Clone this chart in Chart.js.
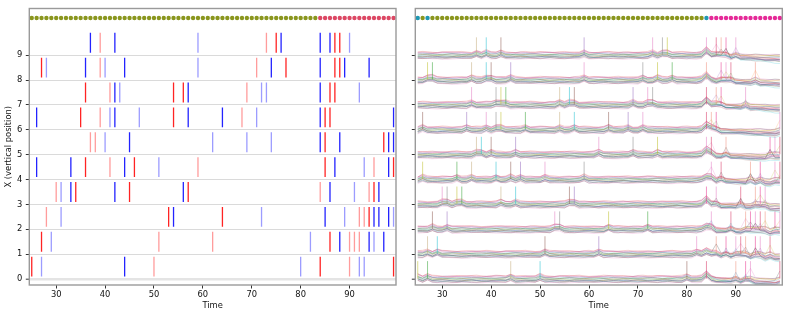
<!DOCTYPE html>
<html><head><meta charset="utf-8">
<script src="https://cdn.jsdelivr.net/npm/chart.js@4.4.1/dist/chart.umd.min.js"></script>
<style>
html,body{margin:0;padding:0;background:#fff;}
#wrap{position:relative;width:789px;height:317px;overflow:hidden;background:#fff;}
#cL{position:absolute;left:0;top:0;width:400px;height:317px;}
#cR{position:absolute;left:400px;top:0;width:389px;height:317px;}
</style></head><body>
<div id="wrap"><canvas id="cL" width="400" height="317"></canvas><canvas id="cR" width="389" height="317"></canvas></div>
<script>
// ---------------- data ----------------
const times = [];
for (let t = 25; t <= 99; t++) times.push(t);
const xTicks = [30, 40, 50, 60, 70, 80, 90];
const yTicks = [0, 1, 2, 3, 4, 5, 6, 7, 8, 9];

// event times per row (0..9) and their kind: B blue, b light blue, R red, r light red
const eventTimes = [
  [25,27,44,50,80,84,90,92,93,99],
  [27,29,51,62,82,86,88,90,91,92,94,95,97],
  [28,31,53,54,64,72,85,89,92,93,94,95,96,98,99],
  [30,31,33,34,42,45,56,57,84,86,91,94,95,96],
  [26,33,36,41,44,46,51,59,85,87,93,95,98,99],
  [37,38,40,45,62,69,74,84,85,88,97,98,99],
  [26,35,39,41,42,47,54,57,64,68,71,84,85,86,99],
  [36,41,42,43,54,56,57,69,72,73,84,86,87,92],
  [27,28,36,39,40,44,59,71,74,77,84,87,88,89,94],
  [37,39,42,59,73,75,76,84,86,87,88,90]
];
const eventKinds = [
  "RbBrbRrbbR",
  "RbrrbRBrrrBbB",
  "rbRBRbBbrrRBBBb",
  "rbBRBRBRrBbrRB",
  "BBRrBRbrRBbrBR",
  "rrbBbbbBRBRBB",
  "BRrbBbRBBrbBRRB",
  "RrBbRRBrbbBRRb",
  "RbBrbBbrBRBRRBB",
  "BrBbrRBBBRRb"
];

// state dots along the top, one per time step (o olive, r red, c cyan, m magenta)
const leftDots  = "oooooooooooooooooooooooooooooooooooooooooooooooooooooooooo" + "o" + "rrrrrrrrrrrrrrrr";
const rightDots = "coc" + "oooooooooooooooooooooooooooooooooooooooooooooooooooooooo" + "c" + "mmmmmmmmmmmmmmm";

// common shape of the trace bands (relative to row), per time step
const bandShape = [
  0,0,0,0,0,0,0,0,0,0,0,0,0,0,0,0,0,0,0,0,
  0,0,0,0,0,0,0,0,0,0,0,0,0,0,0,0,0,0,0,0,
  0,0,0,0,0,0,0,0,0,0,0,0,0,0,0,0,0,0,
  0.03,0.13,0.03,-0.04,-0.06,-0.07,-0.08,-0.09,-0.1,-0.11,-0.12,-0.13,-0.14,-0.15,-0.16,-0.17,-0.18
];
// spread of the bands after the state change
const spreadShape = [
  0,0,0,0,0,0,0,0,0,0,0,0,0,0,0,0,0,0,0,0,
  0,0,0,0,0,0,0,0,0,0,0,0,0,0,0,0,0,0,0,0,
  0,0,0,0,0,0,0,0,0,0,0,0,0,0,0,0,0,0,0,0,
  0.02,0.04,0.06,0.08,0.09,0.1,0.11,0.12,0.13,0.14,0.15,0.16,0.17,0.18,0.19
];
// small wiggles of the traces (hundredths)
const wiggle0 = [0,1,2,1,0,-1,-2,-1,0,1,1,0,-1,-1,0, 2,3,1,0,-1,-2,-2,-1,0,1,2,1,0,0,-1, -2,-1,0,1,2,2,1,0,-1,-1,0,1,0,-1,-2, -1,0,1,2,1,0,-1,-1,0,1,1,0,-1,-2,-1, 0,1,2,1,0,-1,-2,-1,0,1,2,1,0,-1,0];
const wiggle1 = [-1,0,-2,-1,1,2,0,-1,-3,-1,0,2,1,0,-1, 0,1,-1,-2,0,1,3,1,-1,0,-2,-1,1,2,0, 1,-1,-2,0,2,1,-1,0,1,-1,-3,-1,1,0,2, 1,0,-2,-1,0,2,1,-1,-2,0,1,2,0,-1,1, 0,-2,-1,1,2,0,-1,1,0,-2,-1,2,1,0,-1];
const wiggle2 = [2,1,-1,-2,-1,1,2,0,-2,-1,0,1,2,1,-1, -2,0,1,0,-1,-1,1,2,1,-1,-2,0,2,1,0, -1,-2,0,1,2,0,-1,-2,-1,1,2,1,-1,-1,0, 2,1,0,-2,-1,0,1,2,0,-1,-2,-1,1,2,1, -1,0,2,1,-1,-2,0,1,2,0,-1,-1,1,0,2];
const wiggle3 = [-2,-1,1,2,0,-1,0,1,-1,-2,0,2,1,-1,0, 1,-1,0,2,1,-1,-2,0,1,0,-1,1,2,0,-2, 0,2,1,-1,-2,0,1,1,-1,0,2,1,-1,-2,1, 0,-1,1,2,0,-2,-1,0,2,1,-1,0,1,-1,-2, 1,2,0,-1,1,0,-2,-1,1,2,0,-1,0,1,-1];
const traceBase = [-0.14,0.1,-0.08,0.13,-0.03,0.05,-0.11,0.01,0.08,-0.05,0.03,-0.12,0.11,-0.01,-0.06,0.04];
const traceGain = [0.9,-0.8,0.4,-0.6,1.0,-1.0,0.2,-0.4,0.6,0.0,0.7,1.2,-0.3,0.5,0.3,0.8];

// ---------------- styles ----------------
const wiggles = [wiggle0, wiggle1, wiggle2, wiggle3];
const kindColor = {B:'rgb(35,35,255)', b:'rgba(35,35,255,0.45)', R:'rgb(255,35,35)', r:'rgba(255,35,35,0.45)'};
const dotColor = {o:'#8a961e', r:'#dc4864', c:'#1f98b2', m:'#e52a98'};
const trPal = ['227,119,194','148,103,189','31,119,180','214,39,40','188,189,34','23,190,207',
               '140,86,75','44,160,44','227,119,194','148,103,189','255,127,14','127,127,127',
               '214,39,90','31,119,180','105,105,105','120,120,120'];
const trAlpha = [0.28,0.28,0.25,0.25,0.25,0.25,0.25,0.22,0.28,0.28,0.2,0.4,0.25,0.25,0.6,0.45];
const traceColors = trPal.map((c, i) => 'rgba(' + c + ',' + trAlpha[i] + ')');
const preSpike = ['188,189,34','44,160,44','196,170,120','23,190,207','140,86,75','148,103,189','227,119,194','127,127,127'];
const postSpike = ['227,119,194','214,39,90','240,140,120','231,41,138'];

Chart.defaults.font.family = 'DejaVu Sans';
Chart.defaults.font.size = 8.33;
Chart.defaults.color = '#111';

const spines = {id:'spines', afterDraw(chart){
  const {ctx, chartArea:a} = chart;
  ctx.save(); ctx.strokeStyle = '#9a9a9a'; ctx.lineWidth = 1.4;
  ctx.strokeRect(a.left, a.top, a.right - a.left, a.bottom - a.top);
  ctx.restore();
}};

function seg(points, color, width){
  return {type:'line', data:points, borderColor:color, borderWidth:width, pointRadius:0,
          showLine:true, spanGaps:false, fill:false, tension:0};
}
function dots(str){
  return {type:'scatter', data:times.map(t => ({x:t, y:10.5})),
          pointBackgroundColor: times.map((t,j) => dotColor[str[j]]),
          pointBorderWidth:0, pointRadius:2.2, showLine:false};
}
function scales(isLeft){
  return {
    x:{type:'linear', min:24.5, max:99.5,
       afterBuildTicks:s => { s.ticks = xTicks.map(v => ({value:v})); },
       afterFit:s => { s.height = 32; },
       grid:{drawOnChartArea:false, drawTicks:true, tickLength:3.5, tickColor:'#333', tickWidth:1},
       border:{display:false},
       ticks:{padding:1, maxRotation:0, autoSkip:false, callback:v => String(v)},
       title:{display:true, text:'Time', padding:{top:0, bottom:6.5}}},
    y:{type:'linear', min:-0.24, max:10.88,
       afterBuildTicks:s => { s.ticks = yTicks.map(v => ({value:v})); },
       afterFit:s => { s.width = isLeft ? 29.3 : 15.3; },
       grid:{drawOnChartArea:isLeft, drawTicks:true, tickLength:3.5, tickColor:'#333', tickWidth:1,
             color:c => (c.tick && c.tick.value === 0) ? '#e4e4e4' : '#dadada',
             lineWidth:c => (c.tick && c.tick.value === 0) ? 2.4 : 1},
       border:{display:false},
       ticks:{padding:3.5, autoSkip:false, callback:v => isLeft ? String(v) : ''},
       title:{display:isLeft, text:'X (vertical position)', padding:{top:4.3, bottom:0}}}
  };
}
function opts(isLeft){
  return {responsive:false, animation:false, devicePixelRatio:1,
    layout:{padding:{left:0, right:isLeft ? 3.7 : 6.7, top:5, bottom:0}},
    plugins:{legend:{display:false}, tooltip:{enabled:false}},
    scales:scales(isLeft)};
}

// ---------------- left: raster ----------------
const leftSets = [dots(leftDots)];
['B','R','b','r'].forEach(k => {
  const pts = [];
  eventTimes.forEach((ts, r) => ts.forEach((t, e) => {
    if (eventKinds[r][e] === k) pts.push({x:t, y:r + 0.1}, {x:t, y:r + 0.9}, {x:t, y:null});
  }));
  leftSets.push(seg(pts, kindColor[k], 1.3));
});
new Chart(document.getElementById('cL'), {type:'line', data:{datasets:leftSets}, options:opts(true), plugins:[spines]});

// ---------------- right: traces ----------------
const rightSets = [dots(rightDots)];
const spikeGroups = {};
eventTimes.forEach((ts, r) => ts.forEach((t, e) => {
  const col = t >= 84 ? postSpike[(e + r) % postSpike.length] : preSpike[(e + 2 * r) % preSpike.length];
  (spikeGroups[col] = spikeGroups[col] || []).push({x:t, y:r + 0.02}, {x:t, y:r + 0.72}, {x:t, y:null});
}));
Object.keys(spikeGroups).forEach(c => rightSets.push(seg(spikeGroups[c], 'rgba(' + c + ',0.5)', 1)));
for (let r = 0; r < 10; r++) {
  for (let k = 0; k < traceBase.length; k++) {
    const w = wiggles[k % 4];
    const pts = times.map((t, j) => {
      let y = r + traceBase[k] + 0.012 * w[(j + 11 * r + 5 * k) % 75] + bandShape[j] + traceGain[k] * spreadShape[j];
      const e = eventTimes[r].indexOf(t);
      if (e >= 0) { y += 0.08; if (t >= 85 && (e * 3) % traceBase.length === k) y += 0.3; }
      return {x:t, y:y};
    });
    rightSets.push(seg(pts, traceColors[k], 0.9));
  }
}
new Chart(document.getElementById('cR'), {type:'line', data:{datasets:rightSets}, options:opts(false), plugins:[spines]});
</script>
</body></html>
